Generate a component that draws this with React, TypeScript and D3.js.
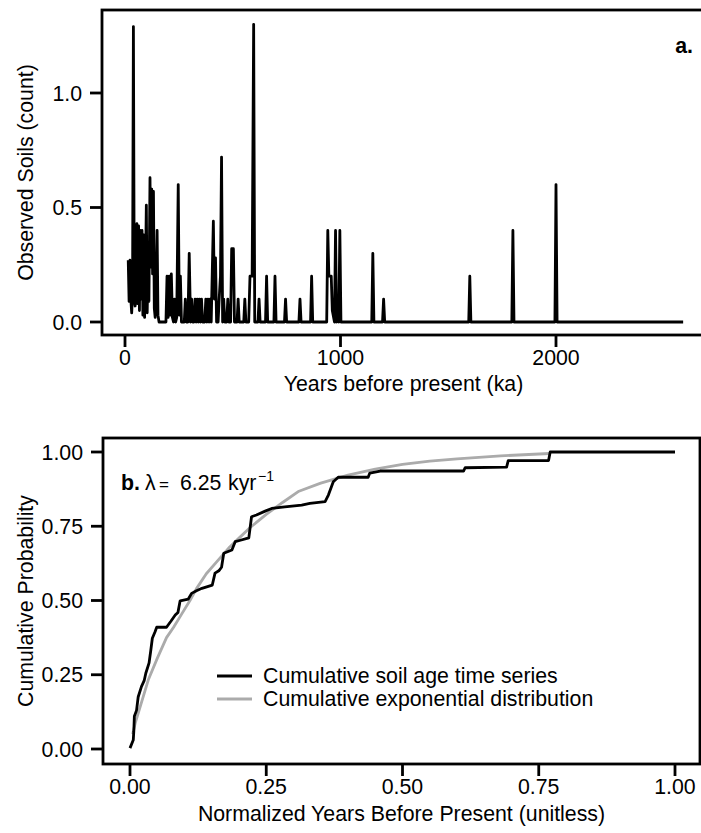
import React from "react";
import * as d3 from "d3";

// panel a: observed soil counts through time (ka)
const soilAges = [
  15, 19, 23, 27, 31, 35, 39, 43, 47, 51, 55, 59, 63, 67, 71, 75, 79, 83, 87, 91,
  95, 99, 103, 107, 111, 116, 120, 124, 128, 132, 136, 140, 145, 149, 153, 158,
  190, 195, 200, 205, 210, 215, 220, 225, 230, 235, 240, 247, 252, 257, 262,
  275, 280, 285, 292, 298, 304, 309, 314, 320, 325, 330, 335, 340, 345, 350,
  355, 360, 370, 375, 380, 385, 390, 395, 400, 405, 410, 415, 420, 425, 432,
  437, 443, 448, 453, 458, 463, 472, 477, 482, 490, 495, 503, 508, 520, 525,
  530, 551, 556, 561, 574, 580, 590, 597, 602, 617, 622, 627, 652, 657, 662,
  691, 696, 701, 740, 745, 750, 807, 812, 817, 861, 866, 871, 936, 941, 946,
  957, 962, 972, 977, 982, 987, 992, 997, 1002, 1145, 1150, 1155, 1195, 1200,
  1205, 1595, 1600, 1605, 1795, 1800, 1805, 1995, 2000, 2005, 2590,
];
const soilCounts = [
  0.27, 0.09, 0.27, 0.1, 0.04, 0.12, 1.29, 0.1, 0.07, 0.2, 0.43, 0.08, 0.42, 0.05, 0.4, 0.1, 0.4, 0.03, 0.38, 0.02,
  0.22, 0.51, 0.04, 0.26, 0.09, 0.63, 0.24, 0.58, 0.21, 0.57, 0.06, 0.02, 0.2, 0.4, 0.03, 0,
  0, 0.2, 0.02, 0.2, 0.03, 0.21, 0.02, 0, 0.1, 0, 0.02, 0.6, 0.03, 0.2, 0,
  0, 0.1, 0, 0, 0.3, 0, 0.1, 0, 0, 0.1, 0, 0.1, 0, 0.1, 0,
  0.1, 0, 0, 0.1, 0, 0.1, 0, 0.1, 0, 0.22, 0.44, 0.1, 0.28, 0, 0,
  0.1, 0.2, 0.72, 0, 0.1, 0, 0, 0.1, 0, 0, 0.32, 0.32, 0, 0, 0.1,
  0, 0, 0.1, 0, 0, 0.2, 0.2, 1.3, 0, 0, 0.1, 0, 0, 0.2, 0,
  0, 0.2, 0, 0, 0.1, 0, 0, 0.1, 0, 0, 0.2, 0, 0, 0.4, 0.2,
  0.2, 0.05, 0, 0.4, 0, 0.1, 0, 0.4, 0, 0, 0.3, 0, 0, 0.1,
  0, 0, 0.2, 0, 0, 0.4, 0, 0, 0.6, 0, 0,
];
const topXTicks = [0, 1000, 2000];
const topYTicks = [0, 0.5, 1.0];

// panel b: cumulative curves
const obsX = [
  0, 0.006, 0.007, 0.008, 0.012, 0.015, 0.021, 0.026, 0.029, 0.035, 0.038, 0.041, 0.046, 0.049, 0.067,
  0.075, 0.083, 0.088, 0.092, 0.107, 0.113, 0.122, 0.132, 0.151, 0.156, 0.163, 0.168, 0.172, 0.187,
  0.193, 0.201, 0.218, 0.223, 0.232, 0.248, 0.26, 0.284, 0.315, 0.33, 0.358, 0.364, 0.373, 0.382,
  0.437, 0.44, 0.459, 0.612, 0.615, 0.691, 0.694, 0.768, 0.771, 1.0,
];
const obsP = [
  0.003, 0.03, 0.06, 0.11, 0.13, 0.175, 0.21, 0.23, 0.255, 0.29, 0.33, 0.373, 0.395, 0.41, 0.41,
  0.43, 0.451, 0.46, 0.499, 0.505, 0.524, 0.533, 0.541, 0.552, 0.592, 0.6, 0.612, 0.659, 0.67,
  0.698, 0.702, 0.711, 0.782, 0.788, 0.801, 0.81, 0.815, 0.821, 0.827, 0.833, 0.855, 0.9, 0.915,
  0.915, 0.929, 0.936, 0.936, 0.947, 0.949, 0.971, 0.971, 1.0, 1.0,
];
const expX = [
  0.005, 0.01, 0.02, 0.034, 0.05, 0.067, 0.08, 0.095, 0.11, 0.122, 0.14, 0.159, 0.183, 0.2, 0.22,
  0.25, 0.28, 0.31, 0.35, 0.4, 0.45, 0.5, 0.55, 0.6, 0.68, 0.77,
];
const expP = [
  0.05, 0.09, 0.15, 0.235, 0.305, 0.375, 0.41, 0.455, 0.5, 0.54, 0.59, 0.63, 0.68, 0.71, 0.745,
  0.79, 0.83, 0.868, 0.895, 0.922, 0.942, 0.958, 0.969, 0.977, 0.987, 0.995,
];
const botTicks = [0, 0.25, 0.5, 0.75, 1.0];
const legendLabels = ["Cumulative soil age time series", "Cumulative exponential distribution"];

const FONT = "'Liberation Sans', Arial, Helvetica, sans-serif";
const FS = 21.3;
const GREY = "#ababab";

const topBox = { left: 102, top: 10, right: 705, bottom: 335 };
const botBox = { left: 103, top: 438, right: 700, bottom: 764 };

export default function App() {
  const xTop = d3.scaleLinear().domain([0, 2000]).range([125, 556]);
  const yTop = d3.scaleLinear().domain([0, 1]).range([322, 93]);
  const xBot = d3.scaleLinear().domain([0, 1]).range([130, 675]);
  const yBot = d3.scaleLinear().domain([0, 1]).range([749, 452]);

  const soilLine = d3
    .line<number>()
    .x((d) => xTop(soilAges[d]))
    .y((d) => yTop(soilCounts[d]));
  const obsLine = d3
    .line<number>()
    .x((d) => xBot(obsX[d]))
    .y((d) => yBot(obsP[d]));
  const expLine = d3
    .line<number>()
    .x((d) => xBot(expX[d]))
    .y((d) => yBot(expP[d]));

  const frame = (b: typeof topBox) => (
    <rect
      x={b.left}
      y={b.top}
      width={b.right - b.left}
      height={b.bottom - b.top}
      fill="none"
      stroke="#000"
      strokeWidth={2.8}
    />
  );

  return (
    <svg
      width={701}
      height={833}
      style={{ position: "absolute", left: 0, top: 0, background: "#fff" }}
      fontFamily={FONT}
    >
      <rect width={701} height={833} fill="#fff" />

      {/* ---- panel a ---- */}
      <path
        d={soilLine(d3.range(soilAges.length)) || ""}
        fill="none"
        stroke="#000"
        strokeWidth={2.8}
        strokeLinejoin="round"
      />
      {frame(topBox)}
      {topXTicks.map((t) => (
        <g key={"tx" + t}>
          <line x1={xTop(t)} x2={xTop(t)} y1={topBox.bottom} y2={topBox.bottom + 12} stroke="#000" strokeWidth={2.8} />
          <text x={xTop(t)} y={topBox.bottom + 30} textAnchor="middle" fontSize={FS}>
            {t}
          </text>
        </g>
      ))}
      {topYTicks.map((t) => (
        <g key={"ty" + t}>
          <line x1={topBox.left - 12} x2={topBox.left} y1={yTop(t)} y2={yTop(t)} stroke="#000" strokeWidth={2.8} />
          <text x={82} y={yTop(t)} dy="0.36em" textAnchor="end" fontSize={FS}>
            {d3.format(".1f")(t)}
          </text>
        </g>
      ))}
      <text x={(topBox.left + topBox.right) / 2} y={topBox.bottom + 56} textAnchor="middle" fontSize={FS}>
        Years before present (ka)
      </text>
      <text
        transform={`translate(33,${(topBox.top + topBox.bottom) / 2}) rotate(-90)`}
        textAnchor="middle"
        fontSize={FS}
      >
        Observed Soils (count)
      </text>
      <text x={693} y={53} textAnchor="end" fontSize={FS} fontWeight="bold">
        a.
      </text>

      {/* ---- panel b ---- */}
      <path
        d={expLine(d3.range(expX.length)) || ""}
        fill="none"
        stroke={GREY}
        strokeWidth={2.8}
        strokeLinejoin="round"
      />
      <path
        d={obsLine(d3.range(obsX.length)) || ""}
        fill="none"
        stroke="#000"
        strokeWidth={2.8}
        strokeLinejoin="round"
      />
      {frame(botBox)}
      {botTicks.map((t) => (
        <g key={"bx" + t}>
          <line x1={xBot(t)} x2={xBot(t)} y1={botBox.bottom} y2={botBox.bottom + 12} stroke="#000" strokeWidth={2.8} />
          <text x={xBot(t)} y={botBox.bottom + 30} textAnchor="middle" fontSize={FS}>
            {d3.format(".2f")(t)}
          </text>
        </g>
      ))}
      {botTicks.map((t) => (
        <g key={"by" + t}>
          <line x1={botBox.left - 12} x2={botBox.left} y1={yBot(t)} y2={yBot(t)} stroke="#000" strokeWidth={2.8} />
          <text x={83} y={yBot(t)} dy="0.36em" textAnchor="end" fontSize={FS}>
            {d3.format(".2f")(t)}
          </text>
        </g>
      ))}
      <text x={(botBox.left + botBox.right) / 2} y={botBox.bottom + 57} textAnchor="middle" fontSize={FS}>
        Normalized Years Before Present (unitless)
      </text>
      <text
        transform={`translate(33,${(botBox.top + botBox.bottom) / 2}) rotate(-90)`}
        textAnchor="middle"
        fontSize={FS}
      >
        Cumulative Probability
      </text>

      {/* panel label with rate */}
      <text y={490} fontSize={FS}>
        <tspan x={121} fontWeight="bold">b.</tspan>
        <tspan x={145}>λ</tspan>
        <tspan x={159} fontSize={17}>=</tspan>
        <tspan x={180}>6.25</tspan>
        <tspan x={228}>kyr</tspan>
      </text>
      <text x={258} y={481} fontSize={14}>
        −1
      </text>

      {/* legend */}
      {legendLabels.map((lab, i) => (
        <g key={lab}>
          <line x1={217} x2={252} y1={676 + i * 23} y2={676 + i * 23} stroke={i === 0 ? "#000" : GREY} strokeWidth={2.8} />
          <text x={263} y={683 + i * 23} fontSize={FS}>
            {lab}
          </text>
        </g>
      ))}
    </svg>
  );
}
